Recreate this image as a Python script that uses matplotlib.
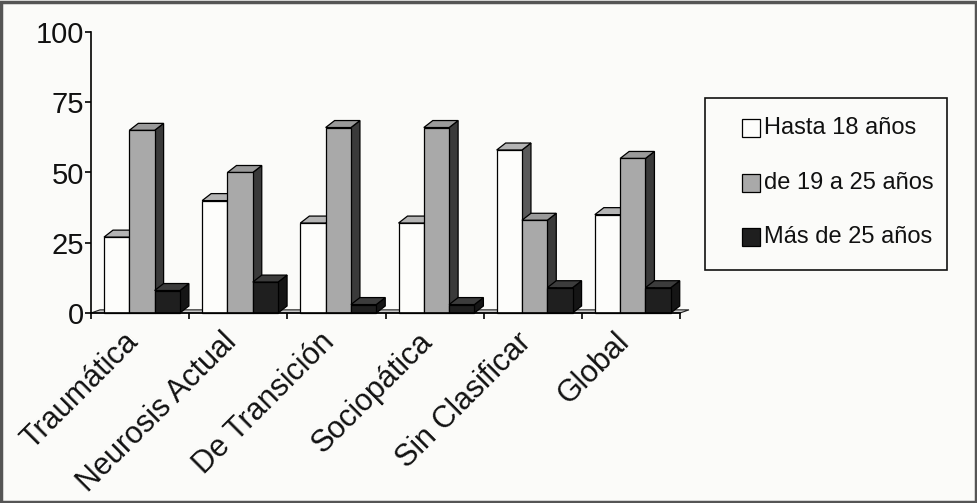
import matplotlib.pyplot as plt
import numpy as np
from matplotlib.patches import Polygon, Rectangle

plt.rcParams['font.family'] = ['Liberation Sans', 'DejaVu Sans']

categories = ["Traumática", "Neurosis Actual", "De Transición",
              "Sociopática", "Sin Clasificar", "Global"]
series = ["Hasta 18 años", "de 19 a 25 años", "Más de 25 años"]
hasta_18 = [27, 40, 32, 32, 58, 35]
de_19_25 = [65, 50, 66, 66, 33, 55]
mas_25 = [8, 11, 3, 3, 9, 9]
values = [hasta_18, de_19_25, mas_25]
yticks = [0, 25, 50, 75, 100]

# front / top / side face colours for each series
faces = [("#fdfdfb", "#b4b4b4", "#5a5a5a"),
         ("#a9a9a9", "#9a9a9a", "#3a3a3a"),
         ("#1f1f1f", "#3c3c3c", "#151515")]

W, H = 978, 503
fig = plt.figure(figsize=(W / 100, H / 100), dpi=100)
fig.patch.set_facecolor("#fbfbf9")

# axes frame in pixel terms: x 91..680, y 313 (0) .. 32 (100)
x0, x1, ybot, ytop = 91, 680, 313, 32
ax = fig.add_axes([x0 / W, (H - ybot) / H, (x1 - x0) / W, (ybot - ytop) / H])
ax.set_xlim(0, len(categories))
ax.set_ylim(0, 100)
ax.set_facecolor("none")

px_x = len(categories) / (x1 - x0)
px_y = 100 / (ybot - ytop)
dx, dy = 9 * px_x, 7 * px_y
bw = 25.3 * px_x
off = 13 * px_x

# floor strip under the bars
floor = Polygon([(0, 0), (len(categories), 0),
                 (len(categories) + dx, dy * 0.45), (dx, dy * 0.45)],
                closed=True, facecolor="#c8c8c8", edgecolor="#222222",
                lw=0.8, zorder=1, clip_on=False)
ax.add_patch(floor)

z = 2
for i in range(len(categories)):
    for s in range(len(series)):
        v = values[s][i]
        xl = i + off + s * bw
        xr = xl + bw
        front, top, side = faces[s]
        ax.add_patch(Polygon([(xr, 0), (xr + dx, dy), (xr + dx, v + dy), (xr, v)],
                             closed=True, facecolor=side, edgecolor="black",
                             lw=0.9, zorder=z, clip_on=False))
        ax.add_patch(Polygon([(xl, v), (xr, v), (xr + dx, v + dy), (xl + dx, v + dy)],
                             closed=True, facecolor=top, edgecolor="black",
                             lw=0.9, zorder=z, clip_on=False))
        ax.add_patch(Rectangle((xl, 0), bw, v, facecolor=front,
                               edgecolor="black", lw=0.9, zorder=z + 0.5,
                               clip_on=False))
        z += 1

for sp in ["top", "right"]:
    ax.spines[sp].set_visible(False)
ax.spines["left"].set_linewidth(1.2)
ax.spines["bottom"].set_linewidth(1.2)
ax.spines["bottom"].set_zorder(100)

ax.set_yticks(yticks)
ax.set_yticklabels([str(t) for t in yticks], fontsize=21, color="#111111")
ax.tick_params(axis="y", length=4.5, width=1.2, pad=0.5)
ax.set_xticks(np.arange(len(categories) + 1))
ax.set_xticklabels([])
ax.tick_params(axis="x", length=4.5, width=1.2)

for i, name in enumerate(categories):
    ax.text(i + 0.33, -5, name, rotation=45, rotation_mode="anchor",
            ha="right", va="top", fontsize=22, color="#111111")

# legend box drawn in pixel coordinates
lx0, ly0, lx1, ly1 = 705, 98, 947, 270
fig.patches.append(Rectangle((lx0 / W, 1 - ly1 / H), (lx1 - lx0) / W,
                             (ly1 - ly0) / H, transform=fig.transFigure,
                             facecolor="none", edgecolor="#111111", lw=1.2))
rows = [128, 183, 237]
sq = 18
for s, name in enumerate(series):
    yc = rows[s]
    fig.patches.append(Rectangle((742 / W, 1 - (yc + sq / 2) / H), sq / W,
                                 sq / H, transform=fig.transFigure,
                                 facecolor=faces[s][0], edgecolor="black",
                                 lw=0.9))
    fig.text(764 / W, 1 - yc / H, name, fontsize=17, va="center",
             ha="left", color="#111111")

# outer frame
fig.patches.append(Rectangle((0.001, 0.002), 0.997, 0.995,
                             transform=fig.transFigure, facecolor="none",
                             edgecolor="#555555", lw=2.5))

fig.savefig("out.png", dpi=100, facecolor=fig.get_facecolor())
